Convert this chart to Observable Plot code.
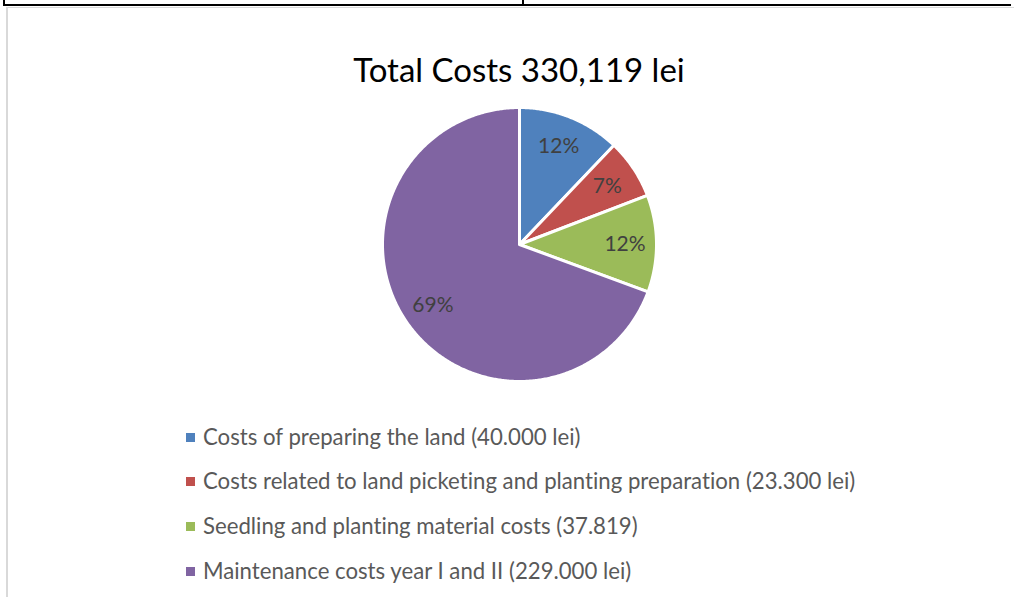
<!DOCTYPE html>
<html>
<head>
<meta charset="utf-8">
<script src="https://cdn.jsdelivr.net/npm/d3@7"></script>
<script src="https://cdn.jsdelivr.net/npm/@observablehq/plot@0.6"></script>
<style>
  html, body { margin: 0; padding: 0; background: #fff; }
  body { width: 1014px; height: 597px; position: relative; overflow: hidden; font-family: Lato, "Noto Sans", sans-serif; font-variant-ligatures: none; }
  .tline { position: absolute; background: #000; }
  .gline { position: absolute; background: #d9d9d9; }
  #title { position: absolute; left: 0; width: 1038px; top: 45px; text-align: center; font-size: 33px; color: #000; line-height: 48px; white-space: nowrap; }
  #chart { position: absolute; left: 0; top: 100px; }
  #legend { position: absolute; left: 186px; top: 414px; }
  .row { display: flex; align-items: center; height: 44.6px; font-size: 22.2px; color: #595959; white-space: nowrap; }
  .sw { width: 9px; height: 9px; margin-right: 8px; flex: none; position: relative; top: 1px; }
</style>
</head>
<body>
<div class="tline" style="left:3px;top:4px;width:1008px;height:2px"></div>
<div class="tline" style="left:3px;top:0;width:2px;height:6px"></div>
<div class="tline" style="left:522px;top:0;width:2px;height:6px"></div>
<div class="gline" style="left:6px;top:7px;width:1008px;height:1px"></div>
<div class="gline" style="left:6px;top:7px;width:2px;height:590px"></div>
<div id="title"></div>
<div id="chart"></div>
<div id="legend"></div>
<script>
const titleText = "Total Costs 330,119 lei";
const categories = [
  "Costs of preparing the land (40.000 lei)",
  "Costs related to land picketing and planting preparation (23.300 lei)",
  "Seedling and planting material costs (37.819)",
  "Maintenance costs year I and II (229.000 lei)"
];
const values = [40000, 23300, 37819, 229000];
const percentLabels = ["12%", "7%", "12%", "69%"];
const colors = ["#4F81BD", "#C0504D", "#9BBB59", "#8064A2"];

document.getElementById("title").textContent = titleText;

// pie geometry (in radius units), built from the data
const arcs = d3.pie().sort(null).value(d => d)(values);
const polys = [];
const labels = [];
arcs.forEach((a, i) => {
  const cat = categories[i];
  polys.push({cat, x: 0, y: 0});
  const n = Math.max(4, Math.ceil((a.endAngle - a.startAngle) / (Math.PI / 360)));
  for (let k = 0; k <= n; k++) {
    const t = a.startAngle + (a.endAngle - a.startAngle) * k / n;
    polys.push({cat, x: Math.sin(t), y: Math.cos(t)});
  }
  polys.push({cat, x: 0, y: 0});
  const m = (a.startAngle + a.endAngle) / 2;
  const lr = 0.77;
  labels.push({cat, x: lr * Math.sin(m), y: lr * Math.cos(m), text: percentLabels[i]});
});

const R = 137, cx = 519, cy = 144, W = 1014, H = 290;
const chart = Plot.plot({
  width: W,
  height: H,
  margin: 0,
  x: {domain: [-cx / R, (W - cx) / R], axis: null},
  y: {domain: [-(H - cy) / R, cy / R], axis: null},
  color: {domain: categories, range: colors},
  marks: [
    Plot.line(polys, {x: "x", y: "y", z: "cat", fill: "cat", stroke: "white", strokeWidth: 3, strokeLinejoin: "round", curve: "linear"}),
    Plot.text(labels, {x: "x", y: "y", text: "text", fill: "#404040", fontSize: 21, fontFamily: "Lato, 'Noto Sans', sans-serif"})
  ]
});
document.getElementById("chart").appendChild(chart);

const legend = document.getElementById("legend");
categories.forEach((c, i) => {
  const row = document.createElement("div");
  row.className = "row";
  const sw = document.createElement("div");
  sw.className = "sw";
  sw.style.background = colors[i];
  const tx = document.createElement("span");
  tx.textContent = c;
  row.appendChild(sw);
  row.appendChild(tx);
  legend.appendChild(row);
});
</script>
</body>
</html>
